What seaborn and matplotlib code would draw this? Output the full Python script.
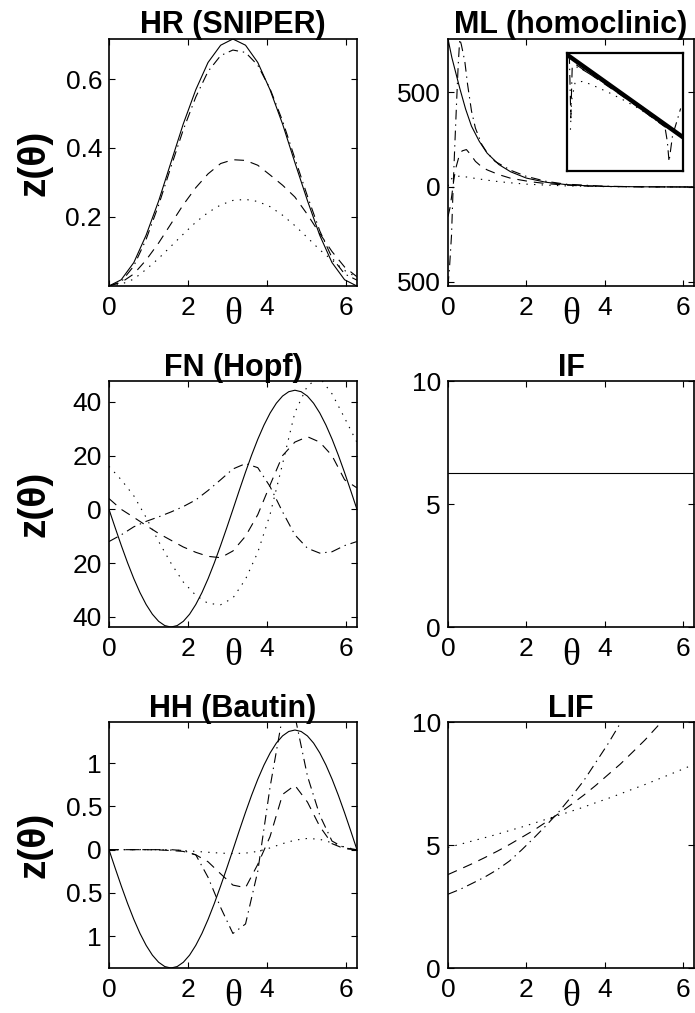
import numpy as np
import seaborn as sns
import matplotlib.pyplot as plt
from matplotlib.ticker import FuncFormatter

# Shared phase grid (at ~pi/10 spacing).
theta = [0, 0.31, 0.63, 0.94, 1.26, 1.57, 1.88, 2.2, 2.51, 2.83, 3.14,
         3.46, 3.77, 4.08, 4.4, 4.71, 5.03, 5.34, 5.65, 5.97, 6.28]
# Finer grid for the large sinusoidal solid curves (~pi/20 spacing).
theta_fine = [0, 0.157, 0.314, 0.471, 0.628, 0.785, 0.942, 1.1, 1.257, 1.414, 1.571,
              1.728, 1.885, 2.042, 2.199, 2.356, 2.513, 2.67, 2.827, 2.985, 3.142,
              3.299, 3.456, 3.613, 3.77, 3.927, 4.084, 4.241, 4.398, 4.555, 4.712,
              4.869, 5.027, 5.184, 5.341, 5.498, 5.655, 5.812, 5.969, 6.126, 6.283]

# HR (SNIPER)
hr_solid = [0, 0.018, 0.068, 0.147, 0.247, 0.358, 0.469, 0.569, 0.648, 0.698, 0.716,
            0.698, 0.648, 0.569, 0.469, 0.358, 0.247, 0.147, 0.068, 0.018, 0]
hr_dashdot = [0, 0.012, 0.058, 0.135, 0.235, 0.345, 0.452, 0.548, 0.622, 0.668, 0.684,
              0.677, 0.64, 0.572, 0.478, 0.37, 0.26, 0.16, 0.082, 0.035, 0.017]
hr_dashed = [0, 0.01, 0.035, 0.075, 0.125, 0.18, 0.235, 0.285, 0.325, 0.355, 0.366,
             0.364, 0.35, 0.322, 0.292, 0.258, 0.207, 0.152, 0.1, 0.055, 0.027]
hr_dotted = [0, 0.005, 0.02, 0.048, 0.08, 0.115, 0.15, 0.185, 0.213, 0.235, 0.248,
             0.251, 0.245, 0.23, 0.205, 0.175, 0.14, 0.105, 0.075, 0.045, 0.025]

# ML (homoclinic) - finer sampling near theta = 0
ml_theta_solid = [0, 0.1, 0.2, 0.3, 0.45, 0.6, 0.8, 1.0, 1.3, 1.6, 2.0, 2.5, 3.0, 3.5, 4.0, 5.0, 6.28]
ml_solid = [779, 680, 600, 520, 410, 320, 240, 178, 118, 80, 47, 25, 13, 7, 3, 1, 0]
ml_theta_dashdot = [0, 0.04, 0.09, 0.13, 0.17, 0.22, 0.26, 0.3, 0.34, 0.43, 0.5, 0.6, 0.7,
                    0.86, 1.0, 1.2, 1.6, 2.0, 2.5, 3.0, 4.0, 5.0, 6.28]
ml_dashdot = [-521, -420, -253, -10, 200, 449, 640, 779, 750, 660, 540, 400, 310,
              225, 180, 135, 88, 56, 30, 15, 4, 1, 0]
ml_theta_dashed = [0, 0.05, 0.1, 0.15, 0.2, 0.28, 0.36, 0.47, 0.58, 0.7, 0.85, 1.0,
                   1.3, 1.6, 2.1, 2.5, 3.0, 3.5, 4.0, 5.0, 6.28]
ml_dashed = [-156, -110, -40, 40, 100, 160, 190, 197, 170, 135, 108, 90,
             65, 46, 28, 18, 10, 5, 3, 1, 0]
ml_theta_dotted = [0, 0.05, 0.1, 0.2, 0.3, 0.5, 0.7, 1.0, 1.3, 1.6, 2.0, 2.5, 3.0, 4.0, 5.0, 6.28]
ml_dotted = [5, 30, 45, 55, 57, 52, 45, 36, 28, 22, 15, 10, 6, 2, 1, 0]

# ML inset (unitless box coordinates)
inset_x_solid = [0, 1]
inset_solid = [0.986, 0.286]
inset_x_dashed = [0.08, 0.2, 0.35, 0.5, 0.65, 0.8, 0.85]
inset_dashed = [0.9, 0.82, 0.72, 0.62, 0.515, 0.405, 0.37]
inset_x_dotted = [0.03, 0.04, 0.07, 0.14, 0.26, 0.37, 0.49, 0.6, 0.71, 0.8, 0.86]
inset_dotted = [0.35, 0.6, 0.75, 0.76, 0.71, 0.66, 0.6, 0.54, 0.47, 0.41, 0.37]
inset_x_dashdot = [0.02, 0.027, 0.033, 0.045, 0.1, 0.3, 0.5, 0.7, 0.8, 0.845, 0.865,
                   0.88, 0.91, 0.95, 0.98]
inset_dashdot = [0.99, 0.7, 0.45, 0.88, 0.88, 0.76, 0.64, 0.51, 0.43, 0.37, 0.25,
                 0.08, 0.3, 0.43, 0.53]

# FN (Hopf)
fn_solid = [0, -6.85, -13.53, -19.89, -25.75, -30.97, -35.43, -39.03, -41.66, -43.26, -43.8,
            -43.26, -41.66, -39.03, -35.43, -30.97, -25.75, -19.89, -13.53, -6.85, 0,
            6.93, 13.69, 20.11, 26.04, 31.32, 35.84, 39.47, 42.13, 43.75, 44.3,
            43.75, 42.13, 39.47, 35.84, 31.32, 26.04, 20.11, 13.69, 6.93, 0]
fn_dashed = [4, 0, -3, -6, -9, -11.5, -14, -16, -17.5, -18, -15.5,
             -10, -2, 9, 20, 25, 27, 25, 20, 11, 8]
fn_dotted = [16, 11, 5, -3, -12, -20, -27, -32, -35, -35.5, -33,
             -26, -16, -2, 17, 36, 46, 49, 43, 34, 25]
fn_dashdot = [-12, -9.5, -6.5, -4.5, -2.8, -1, 1, 3.5, 7, 11, 15,
              17, 15.5, 8.5, -1, -9.5, -14.5, -16.3, -15.8, -13.5, -12]

# IF
if_theta = [0, 6.28]
if_solid = [6.28, 6.28]

# HH (Bautin)
hh_solid = [0, -0.214, -0.423, -0.622, -0.805, -0.969, -1.108, -1.221, -1.303, -1.353, -1.37,
            -1.353, -1.303, -1.221, -1.108, -0.969, -0.805, -0.622, -0.423, -0.214, 0,
            0.217, 0.428, 0.629, 0.814, 0.979, 1.12, 1.234, 1.317, 1.368, 1.385,
            1.368, 1.317, 1.234, 1.12, 0.979, 0.814, 0.629, 0.428, 0.217, 0]
hh_dashed = [0, 0, 0, 0, -0.003, -0.01, -0.02, -0.06, -0.14, -0.28, -0.41,
             -0.44, -0.17, 0.15, 0.64, 0.745, 0.55, 0.27, 0.07, 0.01, 0]
hh_dashdot = [0, 0, 0, 0, 0, 0, -0.01, -0.06, -0.32, -0.67, -0.97,
              -0.86, -0.25, 0.72, 1.55, 1.55, 0.85, 0.4, 0.1, 0.02, 0]
hh_dotted = [0, 0, 0, 0, 0, -0.005, -0.01, -0.02, -0.03, -0.04, -0.045,
             -0.04, -0.02, 0.02, 0.07, 0.11, 0.13, 0.12, 0.08, 0.03, 0]

# LIF
lif_dotted = [4.9, 5.03, 5.17, 5.3, 5.44, 5.59, 5.73, 5.89, 6.05, 6.21, 6.37,
              6.54, 6.72, 6.89, 7.08, 7.27, 7.46, 7.66, 7.86, 8.07, 8.28]
lif_dashed = [3.8, 4.02, 4.25, 4.49, 4.75, 5.02, 5.31, 5.61, 5.94, 6.28, 6.64,
              7.02, 7.42, 7.85, 8.29, 8.77, 9.27, 9.81, 10.36, 10.96, 11.59]
lif_dashdot = [3.0, 3.2, 3.45, 3.7, 4.0, 4.35, 4.8, 5.3, 5.8, 6.35, 6.95,
               7.6, 8.35, 9.1, 9.95, 10.8, 11.8, 12.8, 13.9, 15.0, 16.3]

STYLES = {
    "solid": "-",
    "dashed": (0, (7, 5)),
    "dotted": (0, (1, 4.5)),
    "dashdot": (0, (7, 3.5, 1, 3.5)),
}

sns.set_theme(style="white")
plt.rcParams["font.family"] = ["Liberation Sans", "DejaVu Sans"]
plt.rcParams["lines.scale_dashes"] = False
plt.rcParams["axes.linewidth"] = 1.2
plt.rcParams["axes.edgecolor"] = "black"
plt.rcParams["text.color"] = "black"
plt.rcParams["axes.labelcolor"] = "black"
plt.rcParams["xtick.color"] = "black"
plt.rcParams["ytick.color"] = "black"

no_minus = FuncFormatter(lambda v, pos: f"{abs(v):g}")


def draw(ax, x, y, style, lw=0.8):
    sns.lineplot(x=x, y=y, ax=ax, color="black", linewidth=lw,
                 linestyle=STYLES[style], errorbar=None, sort=False)


def style_axes(ax, title, ylim, yticks, ylabel):
    ax.set_xlim(0, 2 * np.pi)
    ax.set_ylim(ylim)
    ax.set_xticks([0, 2, 4, 6])
    ax.set_yticks(yticks)
    ax.xaxis.set_major_formatter(no_minus)
    ax.yaxis.set_major_formatter(no_minus)
    ax.tick_params(direction="in", top=True, right=True, bottom=True, left=True,
                   length=4, width=0.8, labelsize=19, colors="black")
    ax.tick_params(axis="x", pad=7)
    ax.tick_params(axis="y", pad=5)
    ax.set_title(title, fontsize=22, fontweight="bold", pad=4, color="black")
    ax.set_xlabel("θ", family=["Liberation Serif", "DejaVu Serif"], fontsize=27,
                  va="center", color="black")
    ax.xaxis.set_label_coords(0.5, -0.115)
    if ylabel:
        ax.set_ylabel("z(θ)", fontsize=28, fontweight="bold", va="center", color="black")
        ax.yaxis.set_label_coords(-0.30, 0.5)
    else:
        ax.set_ylabel("")


fig = plt.figure(figsize=(6.95, 10.13), dpi=100)
lx, rx, lw_, rw_ = 0.1568, 0.6446, 0.3568, 0.354
rows = [(0.7177, 0.2438), (0.3810, 0.2428), (0.0444, 0.2428)]

ax_hr = fig.add_axes([lx, rows[0][0], lw_, rows[0][1]])
ax_ml = fig.add_axes([rx, rows[0][0], rw_, rows[0][1]])
ax_fn = fig.add_axes([lx, rows[1][0], lw_, rows[1][1]])
ax_if = fig.add_axes([rx, rows[1][0], rw_, rows[1][1]])
ax_hh = fig.add_axes([lx, rows[2][0], lw_, rows[2][1]])
ax_lif = fig.add_axes([rx, rows[2][0], rw_, rows[2][1]])

# HR
draw(ax_hr, theta, hr_solid, "solid")
draw(ax_hr, theta, hr_dashdot, "dashdot")
draw(ax_hr, theta, hr_dashed, "dashed")
draw(ax_hr, theta, hr_dotted, "dotted")
style_axes(ax_hr, "HR (SNIPER)", (0, 0.716), [0.2, 0.4, 0.6], True)

# ML
draw(ax_ml, ml_theta_solid, ml_solid, "solid")
draw(ax_ml, ml_theta_dashdot, ml_dashdot, "dashdot")
draw(ax_ml, ml_theta_dashed, ml_dashed, "dashed")
draw(ax_ml, ml_theta_dotted, ml_dotted, "dotted")
style_axes(ax_ml, "ML (homoclinic)", (-521, 779), [-500, 0, 500], False)

ax_in = fig.add_axes([0.8158, 0.8312, 0.1669, 0.1165])
draw(ax_in, inset_x_solid, inset_solid, "solid", lw=3.2)
draw(ax_in, inset_x_dashed, inset_dashed, "dashed")
draw(ax_in, inset_x_dotted, inset_dotted, "dotted")
draw(ax_in, inset_x_dashdot, inset_dashdot, "dashdot")
ax_in.set_xlim(0, 1)
ax_in.set_ylim(0, 1)
ax_in.set_xticks([])
ax_in.set_yticks([])
ax_in.set_xlabel("")
ax_in.set_ylabel("")
for sp in ax_in.spines.values():
    sp.set_linewidth(1.6)

# FN
draw(ax_fn, theta_fine, fn_solid, "solid")
draw(ax_fn, theta, fn_dashed, "dashed")
draw(ax_fn, theta, fn_dotted, "dotted")
draw(ax_fn, theta, fn_dashdot, "dashdot")
style_axes(ax_fn, "FN (Hopf)", (-43.8, 47.7), [-40, -20, 0, 20, 40], True)

# IF
draw(ax_if, if_theta, if_solid, "solid")
style_axes(ax_if, "IF", (0, 10), [0, 5, 10], False)

# HH
draw(ax_hh, theta_fine, hh_solid, "solid")
draw(ax_hh, theta, hh_dashed, "dashed")
draw(ax_hh, theta, hh_dashdot, "dashdot")
draw(ax_hh, theta, hh_dotted, "dotted")
style_axes(ax_hh, "HH (Bautin)", (-1.37, 1.477), [-1, -0.5, 0, 0.5, 1], True)

# LIF
draw(ax_lif, theta, lif_dotted, "dotted")
draw(ax_lif, theta, lif_dashed, "dashed")
draw(ax_lif, theta, lif_dashdot, "dashdot")
style_axes(ax_lif, "LIF", (0, 10), [0, 5, 10], False)

fig.savefig("out.png", dpi=100)
